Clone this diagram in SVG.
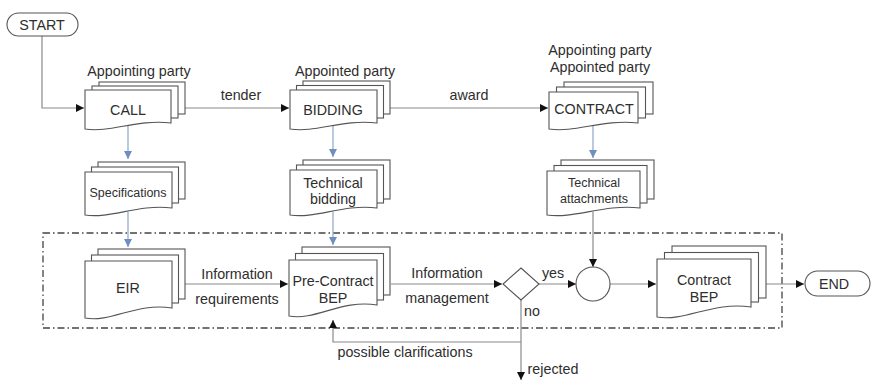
<svg xmlns="http://www.w3.org/2000/svg" width="872" height="383" viewBox="0 0 872 383">
<style>
text{font-family:"Liberation Sans",Arial,sans-serif;font-size:14.3px;fill:#2e2e2e;text-anchor:middle}
.sm{font-size:12.5px}
.doc rect,.doc path{fill:#fff;stroke:#555;stroke-width:1.1}
.term{fill:#fff;stroke:#555;stroke-width:1.1}
.c{fill:none;stroke:#8a8a8a;stroke-width:1.2}
.b{fill:none;stroke:#8ea6c9;stroke-width:1.2}
.frame{fill:none;stroke:#444;stroke-width:1.3;stroke-dasharray:7 3 1.5 3}
</style>
<defs>
<marker id="ah" viewBox="0 0 10 10" refX="10" refY="5" markerWidth="8" markerHeight="8" markerUnits="userSpaceOnUse" orient="auto"><path d="M0,0 L10,5 L0,10 Z" fill="#111"/></marker>
<marker id="bh" viewBox="0 0 10 10" refX="10" refY="5" markerWidth="8" markerHeight="8" markerUnits="userSpaceOnUse" orient="auto"><path d="M0,0 L10,5 L0,10 Z" fill="#6f8fbf"/></marker>
</defs>

<rect class="frame" x="43" y="233" width="739" height="95"/>

<g id="connectors">
<path class="c" d="M42,36 V108 H84" marker-end="url(#ah)"/>
<path class="c" d="M185,108 H289" marker-end="url(#ah)"/>
<path class="c" d="M390,108 H548" marker-end="url(#ah)"/>
<path class="b" d="M128,126 V159" marker-end="url(#bh)"/>
<path class="b" d="M333,126 V157" marker-end="url(#bh)"/>
<path class="b" d="M593,126 V158" marker-end="url(#bh)"/>
<path class="b" d="M128,212 V247" marker-end="url(#bh)"/>
<path class="b" d="M333,212 V245" marker-end="url(#bh)"/>
<path class="c" d="M185,284 H288" marker-end="url(#ah)"/>
<path class="c" d="M391,284 H502" marker-end="url(#ah)"/>
<path class="c" d="M539,284 H576" marker-end="url(#ah)"/>
<path class="c" d="M593,212 V267" marker-end="url(#ah)"/>
<path class="c" d="M610,284 H656" marker-end="url(#ah)"/>
<path class="c" d="M765,284 H804" marker-end="url(#ah)"/>
<path class="c" d="M521,300 V380" marker-end="url(#ah)"/>
<path class="c" d="M521,342 H333 V320" marker-end="url(#ah)"/>
<text x="241" y="100">tender</text>
<text x="469" y="100">award</text>
<text x="237" y="279">Information</text>
<text x="237" y="304">requirements</text>
<text x="447" y="278">Information</text>
<text x="447" y="303">management</text>
<text x="553" y="278">yes</text>
<text x="532" y="316">no</text>
<text x="553" y="374">rejected</text>
<text x="405" y="357">possible clarifications</text>
</g>

<g id="start">
<rect class="term" x="7" y="13" width="71" height="23" rx="11.5"/>
<text x="42" y="30">START</text>
</g>

<g id="call" class="doc">
<rect x="99" y="82" width="86" height="32"/>
<rect x="92" y="86" width="86" height="32"/>
<path d="M85,90 H171 V123 C136.6,119 110.8,133 85,129 Z"/>
<text x="139" y="76">Appointing party</text>
<text x="128" y="115">CALL</text>
</g>

<g id="bidding" class="doc">
<rect x="303" y="81" width="87" height="33"/>
<rect x="296.5" y="85.5" width="87" height="32.5"/>
<path d="M290,90 H377 V123 C342.2,119 316.1,133 290,129 Z"/>
<text x="345" y="76">Appointed party</text>
<text x="333" y="115">BIDDING</text>
</g>

<g id="contract" class="doc">
<rect x="564" y="82" width="89" height="32"/>
<rect x="556.5" y="87" width="89" height="31"/>
<path d="M549,92 H638 V123 C602.4,119 575.7,133 549,129 Z"/>
<text x="600" y="55">Appointing party</text>
<text x="600" y="72">Appointed party</text>
<text x="594" y="114">CONTRACT</text>
</g>

<g id="specifications" class="doc">
<rect x="98" y="162" width="87" height="37"/>
<rect x="91.5" y="167" width="87" height="36"/>
<path d="M85,172 H172 V208 C137.2,204 111.1,219 85,215 Z"/>
<text class="sm" x="128" y="197">Specifications</text>
</g>

<g id="technical-bidding" class="doc">
<rect x="303" y="160" width="87" height="39"/>
<rect x="296.5" y="165" width="87" height="38"/>
<path d="M290,170 H377 V208 C342.2,204 316.1,219 290,215 Z"/>
<text x="333" y="188">Technical</text>
<text x="333" y="204">bidding</text>
</g>

<g id="technical-attachments" class="doc">
<rect x="561" y="160" width="93" height="39"/>
<rect x="554" y="165.5" width="93" height="37.5"/>
<path d="M547,171 H640 V208 C602.8,204 574.9,219 547,215 Z"/>
<text class="sm" x="594" y="187">Technical</text>
<text class="sm" x="594" y="203">attachments</text>
</g>

<g id="eir" class="doc">
<rect x="98" y="249" width="87" height="50"/>
<rect x="91.5" y="255" width="87" height="48"/>
<path d="M85,261 H172 V308 C137.2,302 111.1,323 85,318 Z"/>
<text x="128" y="293">EIR</text>
</g>

<g id="pre-contract-bep" class="doc">
<rect x="302" y="247" width="88" height="48"/>
<rect x="295.5" y="253.5" width="88" height="46.5"/>
<path d="M289,260 H377 V305 C341.8,299 315.4,321 289,316 Z"/>
<text x="333" y="286">Pre-Contract</text>
<text x="333" y="303">BEP</text>
</g>

<g id="decision">
<polygon class="term" points="521,268 539,284 521,300 503,284"/>
</g>

<g id="merge">
<circle class="term" cx="593" cy="284" r="17"/>
</g>

<g id="contract-bep" class="doc">
<rect x="672" y="246" width="94" height="52"/>
<rect x="664.5" y="252.5" width="94" height="49.5"/>
<path d="M657,259 H751 V307 C713.4,301 685.2,322 657,317 Z"/>
<text x="704" y="285">Contract</text>
<text x="704" y="302">BEP</text>
</g>

<g id="end">
<rect class="term" x="805" y="271" width="65" height="25" rx="12.5"/>
<text x="834" y="289">END</text>
</g>
</svg>
